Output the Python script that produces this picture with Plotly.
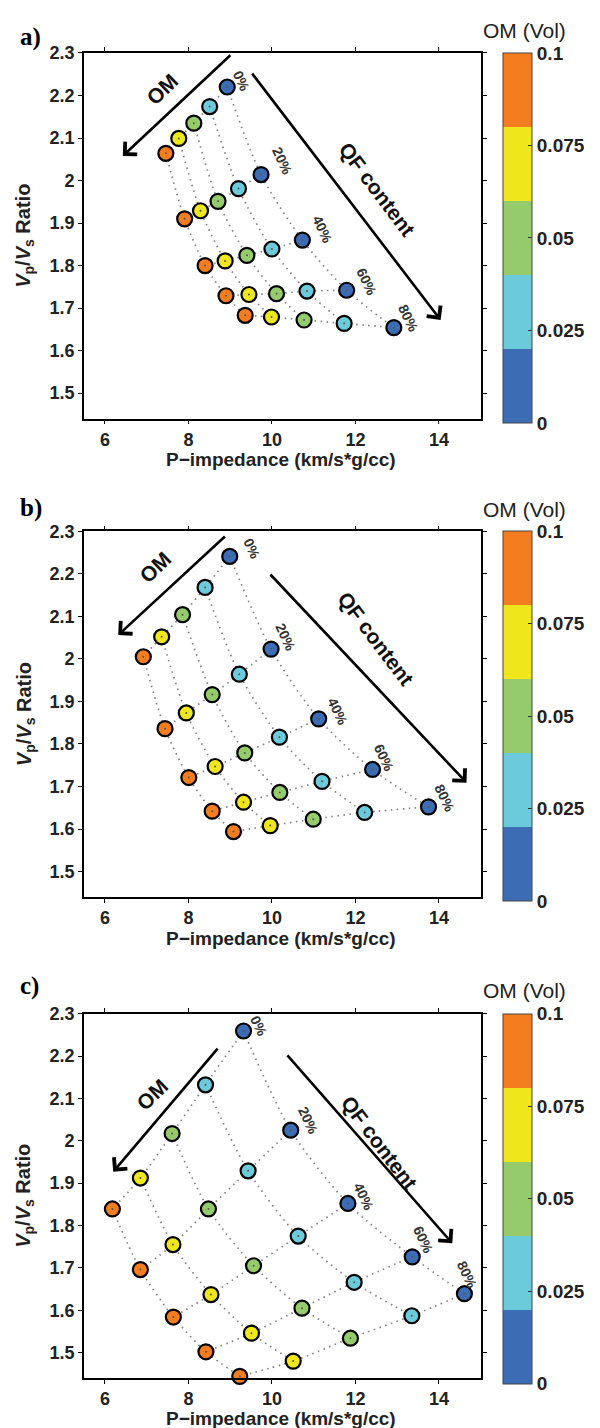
import plotly.graph_objects as go

# ---------------- data ----------------
OM_LEVELS = [0, 0.025, 0.05, 0.075, 0.1]          # colour of each column
QF_LABELS = ["0%", "20%", "40%", "60%", "80%"]     # one row per QF content
X_TICKS = [6, 8, 10, 12, 14]
Y_TICKS = [1.5, 1.6, 1.7, 1.8, 1.9, 2.0, 2.1, 2.2, 2.3]
Y_TICKTEXT = ["1.5", "1.6", "1.7", "1.8", "1.9", "2", "2.1", "2.2", "2.3"]
CB_TICKS = [0, 0.025, 0.05, 0.075, 0.1]
CB_TICKTEXT = ["0", "0.025", "0.05", "0.075", "0.1"]
COLORS = ["#3C6DB4", "#6BCBDB", "#96CB6C", "#F0E61C", "#F47D20"]

# panel a
a_ip = [[8.93, 8.51, 8.13, 7.77, 7.46],
        [9.74, 9.20, 8.71, 8.29, 7.91],
        [10.73, 10.00, 9.40, 8.88, 8.40],
        [11.79, 10.84, 10.11, 9.45, 8.90],
        [12.92, 11.73, 10.77, 9.99, 9.36]]
a_vpvs = [[2.220, 2.174, 2.135, 2.099, 2.064],
          [2.014, 1.981, 1.951, 1.929, 1.910],
          [1.860, 1.839, 1.824, 1.811, 1.800],
          [1.742, 1.740, 1.734, 1.732, 1.729],
          [1.654, 1.664, 1.672, 1.679, 1.683]]
# panel b
b_ip = [[8.99, 8.40, 7.86, 7.36, 6.92],
        [9.98, 9.22, 8.57, 7.95, 7.44],
        [11.12, 10.18, 9.35, 8.64, 8.01],
        [12.41, 11.20, 10.19, 9.32, 8.57],
        [13.75, 12.22, 10.99, 9.96, 9.08]]
b_vpvs = [[2.241, 2.168, 2.104, 2.052, 2.005],
          [2.023, 1.964, 1.916, 1.873, 1.836],
          [1.859, 1.816, 1.779, 1.747, 1.721],
          [1.740, 1.712, 1.686, 1.663, 1.642],
          [1.652, 1.639, 1.623, 1.608, 1.594]]
# panel c
c_ip = [[9.32, 8.41, 7.61, 6.85, 6.18],
        [10.45, 9.43, 8.48, 7.63, 6.85],
        [11.82, 10.63, 9.56, 8.54, 7.64],
        [13.36, 11.97, 10.72, 9.51, 8.42],
        [14.61, 13.35, 11.88, 10.51, 9.23]]
c_vpvs = [[2.259, 2.132, 2.017, 1.912, 1.839],
          [2.025, 1.929, 1.839, 1.755, 1.696],
          [1.852, 1.775, 1.705, 1.637, 1.584],
          [1.726, 1.666, 1.605, 1.546, 1.502],
          [1.639, 1.587, 1.534, 1.480, 1.444]]

# annotation anchors (data coords): arrows (tail -> head), texts, percent labels
a_om_arrow = [(9.04, 2.298), (6.43, 2.058)]
a_qf_arrow = [(9.50, 2.255), (14.04, 1.672)]
a_om_text = (7.36, 2.215)
a_qf_text = (12.53, 1.980)
a_pct_x = [9.27, 10.25, 11.22, 12.27, 13.28]
a_pct_y = [2.234, 2.046, 1.884, 1.761, 1.675]

b_om_arrow = [(8.91, 2.291), (6.32, 2.056)]
b_qf_arrow = [(9.93, 2.202), (14.66, 1.709)]
b_om_text = (7.19, 2.216)
b_qf_text = (12.48, 2.047)
b_pct_x = [9.52, 10.32, 11.58, 12.68, 14.13]
b_pct_y = [2.258, 2.051, 1.875, 1.766, 1.672]

c_om_arrow = [(8.73, 2.221), (6.20, 1.927)]
c_qf_arrow = [(10.34, 2.205), (14.32, 1.758)]
c_om_text = (7.13, 2.110)
c_qf_text = (12.57, 1.996)
c_pct_x = [9.68, 10.88, 12.20, 13.63, 14.68]
c_pct_y = [2.270, 2.047, 1.867, 1.766, 1.684]

PANELS = [
    dict(label="a)", ip=a_ip, vpvs=a_vpvs, om_arrow=a_om_arrow, qf_arrow=a_qf_arrow,
         om_text=a_om_text, qf_text=a_qf_text, pct_x=a_pct_x, pct_y=a_pct_y,
         top=43.3, bottom=411.5, cb_top=43.3, label_y=27, xtitle_y=452.5, cbtitle_y=20.7),
    dict(label="b)", ip=b_ip, vpvs=b_vpvs, om_arrow=b_om_arrow, qf_arrow=b_qf_arrow,
         om_text=b_om_text, qf_text=b_qf_text, pct_x=b_pct_x, pct_y=b_pct_y,
         top=525.0, bottom=893.3, cb_top=525.0, label_y=501.7, xtitle_y=935.0, cbtitle_y=503.0),
    dict(label="c)", ip=c_ip, vpvs=c_vpvs, om_arrow=c_om_arrow, qf_arrow=c_qf_arrow,
         om_text=c_om_text, qf_text=c_qf_text, pct_x=c_pct_x, pct_y=c_pct_y,
         top=1010.7, bottom=1377.7, cb_top=1010.7, label_y=983.0, xtitle_y=1418.0, cbtitle_y=987.5),
]

W, H = 600, 1428
SANS = "Liberation Sans, Arial, sans-serif"
SERIF = "Liberation Serif, Times New Roman, serif"
PLOT_L, PLOT_R = 84.0, 480.7

colorscale = []
for k, c in enumerate(COLORS):
    colorscale.append([k / 5, c])
    colorscale.append([(k + 1) / 5, c])

fig = go.Figure()
layout = dict(width=W, height=H, margin=dict(l=0, r=0, t=0, b=0),
              paper_bgcolor="white", plot_bgcolor="white", showlegend=False,
              font=dict(family=SANS, color="black"))
annotations = []


def py(pix):
    return 1 - pix / H


for p_i, P in enumerate(PANELS):
    n = "" if p_i == 0 else str(p_i + 1)
    xa, ya = "x" + n, "y" + n
    ca = "coloraxis" + n
    ip, vv = P["ip"], P["vpvs"]

    dot_line = dict(color="#808080", width=1.7, dash="1.5px,4.5px", shape="spline", smoothing=0.8)
    # iso-QF lines (along OM)
    for i in range(5):
        fig.add_trace(go.Scatter(x=ip[i], y=vv[i], mode="lines", line=dot_line,
                                 xaxis=xa, yaxis=ya, hoverinfo="skip"))
    # iso-OM lines (along QF)
    for j in range(5):
        fig.add_trace(go.Scatter(x=[ip[i][j] for i in range(5)], y=[vv[i][j] for i in range(5)],
                                 mode="lines", line=dot_line, xaxis=xa, yaxis=ya, hoverinfo="skip"))
    xs = [ip[i][j] for i in range(5) for j in range(5)]
    ys = [vv[i][j] for i in range(5) for j in range(5)]
    cs = [OM_LEVELS[j] for i in range(5) for j in range(5)]
    fig.add_trace(go.Scatter(x=xs, y=ys, mode="markers", xaxis=xa, yaxis=ya, cliponaxis=False,
                             marker=dict(size=15, color=cs, coloraxis=ca,
                                         line=dict(color="black", width=2.2))))
    fig.add_trace(go.Scatter(x=xs, y=ys, mode="markers", xaxis=xa, yaxis=ya, cliponaxis=False,
                             marker=dict(size=2, color="#555555"), hoverinfo="skip"))

    dom_y = [py(P["bottom"]), py(P["top"])]
    axis_common = dict(showline=True, linecolor="black", linewidth=1.6, mirror="ticks",
                       ticks="outside", ticklen=4, tickwidth=1.2, tickcolor="black",
                       showgrid=False, zeroline=False,
                       tickfont=dict(family=SANS, size=18, color="#222", weight="bold"))
    layout["xaxis" + n] = dict(domain=[PLOT_L / W, PLOT_R / W], range=[5.5, 15], anchor=ya,
                               tickvals=X_TICKS, ticktext=[str(t) for t in X_TICKS], **axis_common)
    layout["yaxis" + n] = dict(domain=dom_y, range=[1.44, 2.3], anchor=xa,
                               tickvals=Y_TICKS, ticktext=Y_TICKTEXT, **axis_common)
    layout[ca] = dict(cmin=0, cmax=0.1, colorscale=colorscale,
                      colorbar=dict(x=503 / W, xanchor="left", xpad=0, ypad=0,
                                    y=py(P["cb_top"]), yanchor="top",
                                    len=370, lenmode="pixels", thickness=29, thicknessmode="pixels",
                                    outlinewidth=1, outlinecolor="#444",
                                    tickvals=CB_TICKS, ticktext=CB_TICKTEXT,
                                    ticks="inside", ticklen=4, tickcolor="#333",
                                    tickfont=dict(family=SANS, size=19, color="#222", weight="bold")))

    # arrows
    for (tail, head) in (P["om_arrow"], P["qf_arrow"]):
        annotations.append(dict(xref=xa, yref=ya, axref=xa, ayref=ya, x=head[0], y=head[1],
                                ax=tail[0], ay=tail[1], text="", showarrow=True,
                                arrowhead=4, arrowsize=1.3, arrowwidth=2.6, arrowcolor="black",
                                standoff=0, startstandoff=0))
    annotations.append(dict(xref=xa, yref=ya, x=P["om_text"][0], y=P["om_text"][1], text="OM",
                            showarrow=False, textangle=-44,
                            font=dict(family=SANS, size=21, color="#111", weight="bold")))
    annotations.append(dict(xref=xa, yref=ya, x=P["qf_text"][0], y=P["qf_text"][1], text="QF content",
                            showarrow=False, textangle=53,
                            font=dict(family=SANS, size=21, color="#111", weight="bold")))
    for k in range(5):
        annotations.append(dict(xref=xa, yref=ya, x=P["pct_x"][k], y=P["pct_y"][k], text=QF_LABELS[k],
                                showarrow=False, textangle=65,
                                font=dict(family=SANS, size=14, color="#333", weight="bold")))
    # panel label
    annotations.append(dict(xref="paper", yref="paper", x=18 / W, y=py(P["label_y"]), text=P["label"],
                            xanchor="left", yanchor="middle", showarrow=False,
                            font=dict(family=SERIF, size=25, color="black", weight="bold")))
    # x title
    annotations.append(dict(xref="paper", yref="paper", x=280.5 / W, y=py(P["xtitle_y"]),
                            text="P\u2212impedance (km/s*g/cc)", xanchor="center", yanchor="middle",
                            showarrow=False,
                            font=dict(family=SANS, size=19, color="#222", weight="bold")))
    # y title
    annotations.append(dict(xref="paper", yref="paper", x=25 / W, y=py((P["top"] + P["bottom"]) / 2),
                            text="<i>V</i><sub>p</sub>/<i>V</i><sub>s</sub> Ratio",
                            textangle=-90, xanchor="center", yanchor="middle", showarrow=False,
                            font=dict(family=SANS, size=20, color="#222", weight="bold")))
    # colorbar title
    annotations.append(dict(xref="paper", yref="paper", x=524 / W, y=py(P["cbtitle_y"]),
                            text="OM (Vol)", xanchor="center", yanchor="middle", showarrow=False,
                            font=dict(family=SANS, size=21, color="#222")))

layout["annotations"] = annotations
fig.update_layout(**layout)
fig.write_html("out.html")
